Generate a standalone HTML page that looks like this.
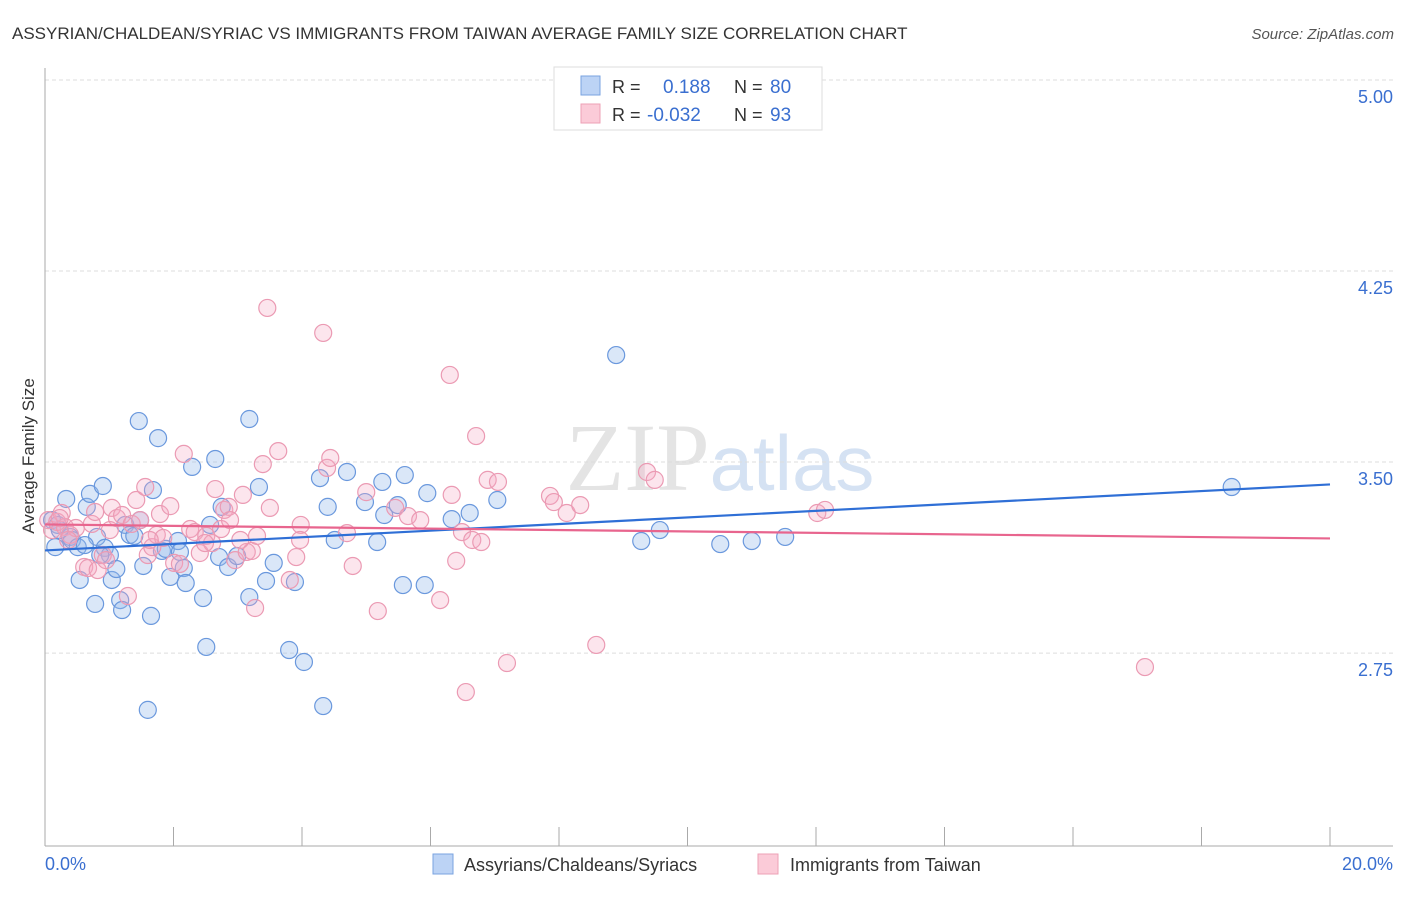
<!DOCTYPE html>
<html><head><meta charset="utf-8"><style>
body{margin:0;background:#fff;font-family:"Liberation Sans",sans-serif}
</style></head><body>
<svg width="1406" height="892" xmlns="http://www.w3.org/2000/svg" font-family="Liberation Sans, sans-serif">
<text x="12" y="39" font-size="17" fill="#333">ASSYRIAN/CHALDEAN/SYRIAC VS IMMIGRANTS FROM TAIWAN AVERAGE FAMILY SIZE CORRELATION CHART</text>
<text x="1394" y="39" font-size="15" fill="#555" text-anchor="end" font-style="italic">Source: ZipAtlas.com</text>
<text x="720" y="490" font-size="96" fill="#e4e4e4" text-anchor="middle" font-family="Liberation Serif, serif">ZIP<tspan fill="#d5e2f3" font-family="Liberation Sans, sans-serif" font-size="78">atlas</tspan></text>
<g id="grid"></g>
<g id="axes"></g>
<g id="pts"></g>
<g id="trends"></g>
<text transform="translate(34,456) rotate(-90)" font-size="17" fill="#333" text-anchor="middle">Average Family Size</text>
<text x="45" y="870" font-size="18" fill="#3a6fd0">0.0%</text>
<text x="1393" y="870" font-size="18" fill="#3a6fd0" text-anchor="end">20.0%</text>
<g>
<rect x="554" y="67" width="268" height="63" fill="#fff" stroke="#ddd"/>
<rect x="581" y="76" width="19" height="19" fill="#bcd3f5" stroke="#7aa3e0"/>
<rect x="581" y="104" width="19" height="19" fill="#fbcbd8" stroke="#eea0b6"/>
<text x="612" y="93" font-size="18" fill="#333">R =</text><text x="663" y="93" font-size="19" fill="#3a6fd0">0.188</text>
<text x="734" y="93" font-size="18" fill="#333">N =</text><text x="770" y="93" font-size="19" fill="#3a6fd0">80</text>
<text x="612" y="121" font-size="18" fill="#333">R =</text><text x="647" y="121" font-size="19" fill="#3a6fd0">-0.032</text>
<text x="734" y="121" font-size="18" fill="#333">N =</text><text x="770" y="121" font-size="19" fill="#3a6fd0">93</text>
</g>
<g>
<rect x="433" y="854" width="20" height="20" fill="#bcd3f5" stroke="#7aa3e0"/>
<text x="464" y="871" font-size="18" fill="#333">Assyrians/Chaldeans/Syriacs</text>
<rect x="758" y="854" width="20" height="20" fill="#fbcbd8" stroke="#eea0b6"/>
<text x="790" y="871" font-size="18" fill="#333">Immigrants from Taiwan</text>
</g>
</svg>
<script>
const yTicks=[5.00,4.25,3.50,2.75];
const yTickLabels=["5.00","4.25","3.50","2.75"];
const xTicks=[0,2,4,6,8,10,12,14,16,18,20];
const bluePx=[[52,520],[55,547],[58,525],[66,499],[70,537],[72,540],[78,547],[80,580],[87,507],[90,494],[95,604],[97,537],[103,486],[105,548],[110,555],[112,580],[116,569],[120,600],[122,610],[125,525],[130,535],[134,536],[139,421],[140,520],[143,566],[148,710],[151,616],[153,490],[158,438],[162,551],[166,549],[170,577],[178,541],[180,552],[184,568],[186,583],[192,467],[203,598],[206,647],[210,525],[215,459],[219,557],[222,507],[228,567],[237,556],[249,419],[249,597],[259,487],[266,581],[274,563],[289,650],[295,582],[304,662],[320,478],[323,706],[328,507],[335,540],[347,472],[365,502],[377,542],[382,482],[384,515],[398,505],[403,585],[405,475],[425,585],[427,493],[452,519],[470,513],[497,500],[616,355],[641,541],[660,530],[720,544],[752,541],[785,537],[1232,487],[60,530],[85,545],[100,555]];
const pinkPx=[[48,520],[52,530],[57,522],[62,513],[65,527],[70,535],[76,528],[84,567],[88,568],[92,524],[98,570],[103,555],[106,560],[112,508],[117,518],[122,515],[128,596],[132,524],[136,500],[140,520],[145,487],[148,555],[152,547],[157,535],[160,514],[163,538],[170,506],[174,563],[180,564],[184,454],[190,529],[195,532],[200,553],[206,536],[212,543],[215,489],[221,529],[224,510],[229,507],[235,560],[243,495],[247,552],[252,551],[255,608],[257,536],[263,464],[267,308],[270,508],[278,451],[290,580],[296,557],[301,525],[323,333],[327,468],[330,458],[347,533],[353,566],[366,492],[378,611],[395,508],[408,516],[440,600],[450,375],[452,495],[456,561],[462,532],[466,692],[472,540],[476,436],[481,542],[488,480],[498,482],[507,663],[550,496],[554,502],[567,513],[580,505],[596,645],[647,472],[655,480],[817,513],[825,510],[1145,667],[60,518],[68,540],[150,540],[240,540],[205,543],[110,530],[230,520],[300,540],[420,520],[95,512]];
// data values (x in %, y family size) derived from reading picture
const blueX=bluePx.map(p=>+((p[0]-45)/64.25).toFixed(2));
const blueY=bluePx.map(p=>+(5-(p[1]-80)/254.7).toFixed(3));
const pinkX=pinkPx.map(p=>+((p[0]-45)/64.25).toFixed(2));
const pinkY=pinkPx.map(p=>+(5-(p[1]-80)/254.7).toFixed(3));
const blueTrend=[3.153,3.412];
const pinkTrend=[3.255,3.200];
const NS="http://www.w3.org/2000/svg";
const xs=v=>45+v*64.25, ys=v=>80+(5-v)*254.7;
function mk(t,a,p){const e=document.createElementNS(NS,t);for(const k in a)e.setAttribute(k,a[k]);p.appendChild(e);return e;}
const grid=document.getElementById('grid'),axes=document.getElementById('axes'),pts=document.getElementById('pts'),tr=document.getElementById('trends');
yTicks.forEach((v,i)=>{
 const l=mk('line',{x1:45,x2:1393,y1:ys(v),y2:ys(v),stroke:'#ddd','stroke-dasharray':'4,3'},grid);
 
 
 const t=mk('text',{x:1393,y:ys(v)+23,'font-size':18,fill:'#3a6fd0','text-anchor':'end'},grid);
 t.textContent=yTickLabels[i];
 
 
});
const ax=mk('line',{x1:45,x2:45,y1:68,y2:846,stroke:'#aaa'},axes);


const bx=mk('line',{x1:45,x2:1393,y1:846,y2:846,stroke:'#aaa'},axes);


xTicks.forEach(v=>{const t=mk('line',{x1:xs(v),x2:xs(v),y1:827,y2:846,stroke:'#aaa'},axes);
 
 });
blueX.forEach((x,i)=>{const c=mk('circle',{cx:xs(x),cy:ys(blueY[i]),r:8.5,fill:'rgba(150,185,235,0.35)',stroke:'#6a98dd','stroke-width':1.2},pts);
 
 });
pinkX.forEach((x,i)=>{const c=mk('circle',{cx:xs(x),cy:ys(pinkY[i]),r:8.5,fill:'rgba(245,170,195,0.3)',stroke:'#eb9ab3','stroke-width':1.2},pts);
 
 });
const b=mk('line',{x1:xs(0),x2:xs(20),y1:ys(blueTrend[0]),y2:ys(blueTrend[1]),stroke:'#2f6fd6','stroke-width':2.2},tr);


const p=mk('line',{x1:xs(0),x2:xs(20),y1:ys(pinkTrend[0]),y2:ys(pinkTrend[1]),stroke:'#e8658e','stroke-width':2.2},tr);


</script>
</body></html>
